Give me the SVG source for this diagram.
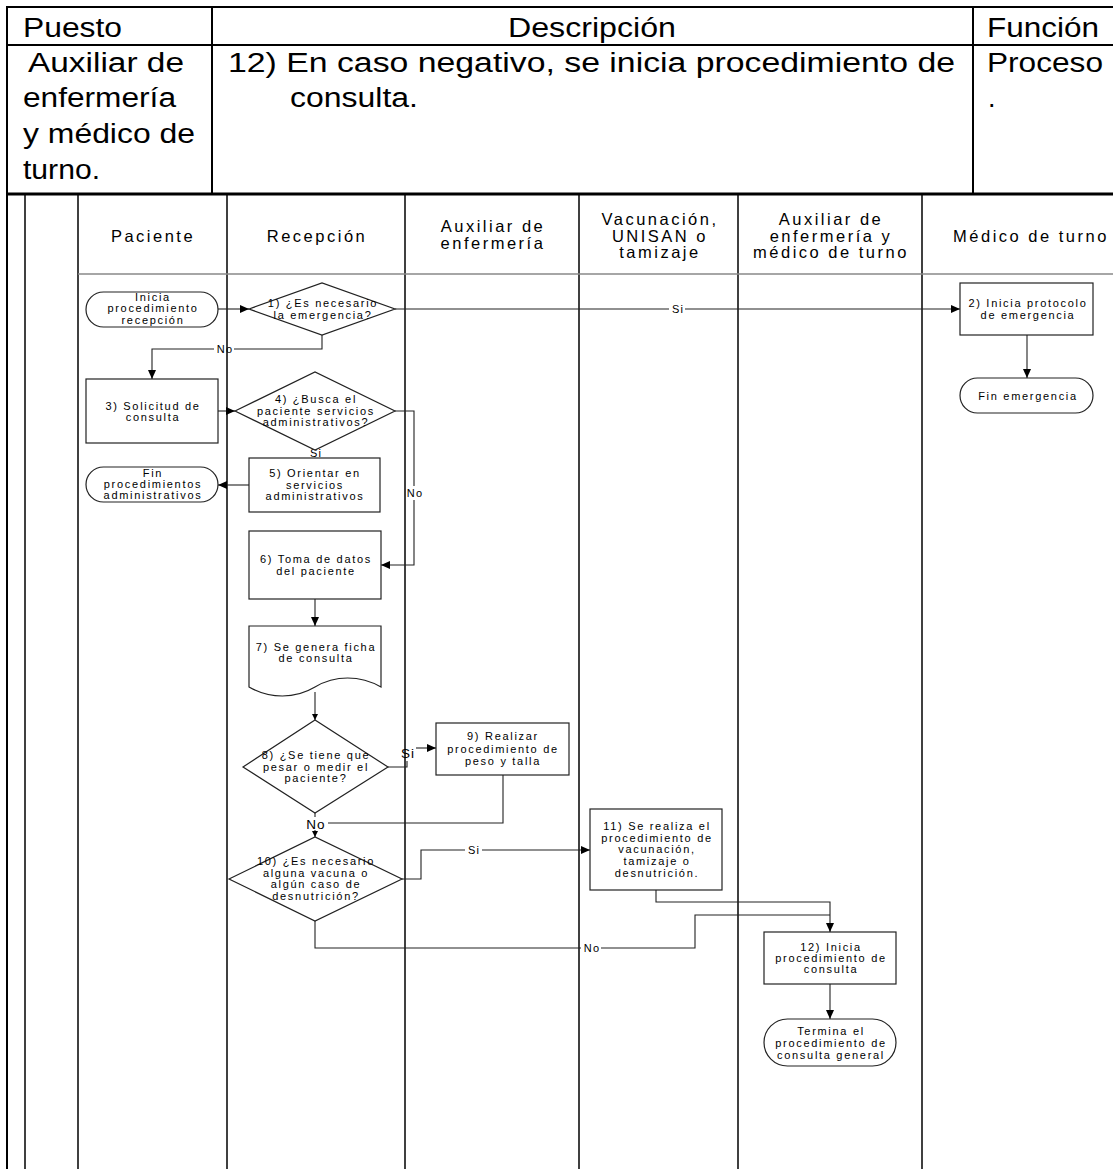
<svg xmlns="http://www.w3.org/2000/svg" width="1113" height="1169" viewBox="0 0 1113 1169">
<style>
text{font-family:"Liberation Sans",Arial,sans-serif;fill:#000}
.tbl{font-size:27px}
.lane{font-size:16.5px;letter-spacing:2.5px;text-anchor:middle}
.t{font-size:11px;letter-spacing:1.7px;text-anchor:middle}
.lb{font-size:11px;letter-spacing:1.2px;text-anchor:middle}
.lbb{font-size:13.5px;letter-spacing:1px;text-anchor:middle}
.grid{stroke:#000;stroke-width:2;fill:none}
.ln{stroke:#000;stroke-width:1.5;fill:none}
.hd{stroke:#888;stroke-width:1.5;fill:none}
.sh{fill:#fff;stroke:#222;stroke-width:1.2}
.c{fill:none;stroke:#222;stroke-width:1.1}
.a{marker-end:url(#ah)}
.as{marker-end:url(#ahs)}
</style>
<defs>
<marker id="ah" viewBox="0 0 9 8" refX="9" refY="4" markerWidth="9" markerHeight="8" markerUnits="userSpaceOnUse" orient="auto"><path d="M0,0 L9,4 L0,8 z" fill="#000"/></marker>
<marker id="ahs" viewBox="0 0 6 6" refX="6" refY="3" markerWidth="6" markerHeight="6" markerUnits="userSpaceOnUse" orient="auto"><path d="M0,0 L6,3 L0,6 z" fill="#000"/></marker>
</defs>
<rect width="1113" height="1169" fill="#fff"/>

<g id="table">
<line class="grid" x1="7" y1="7" x2="1113" y2="7"/>
<line class="grid" x1="7" y1="45" x2="1113" y2="45"/>
<line x1="7" y1="194" x2="1113" y2="194" stroke="#000" stroke-width="3"/>
<line class="grid" x1="7" y1="6" x2="7" y2="194"/>
<line class="grid" x1="212" y1="6" x2="212" y2="194"/>
<line class="grid" x1="973" y1="6" x2="973" y2="194"/>
<text class="tbl" x="23" y="37" textLength="99" lengthAdjust="spacingAndGlyphs">Puesto</text>
<text class="tbl" x="508" y="37" textLength="168" lengthAdjust="spacingAndGlyphs">Descripción</text>
<text class="tbl" x="987" y="37" textLength="112" lengthAdjust="spacingAndGlyphs">Función</text>
<text class="tbl" x="28" y="72" textLength="156" lengthAdjust="spacingAndGlyphs">Auxiliar de</text>
<text class="tbl" x="23" y="107" textLength="153" lengthAdjust="spacingAndGlyphs">enfermería</text>
<text class="tbl" x="23" y="143" textLength="172" lengthAdjust="spacingAndGlyphs">y médico de</text>
<text class="tbl" x="23" y="179" textLength="77" lengthAdjust="spacingAndGlyphs">turno.</text>
<text class="tbl" x="228" y="72" textLength="727" lengthAdjust="spacingAndGlyphs">12) En caso negativo, se inicia procedimiento de</text>
<text class="tbl" x="290" y="107" textLength="128" lengthAdjust="spacingAndGlyphs">consulta.</text>
<text class="tbl" x="987" y="72" textLength="116" lengthAdjust="spacingAndGlyphs">Proceso</text>
<text class="tbl" x="988" y="107">.</text>
</g>

<g id="lanes">
<line class="grid" x1="7" y1="194" x2="7" y2="1169"/>
<line class="ln" x1="25" y1="194" x2="25" y2="1169"/>
<line class="ln" x1="78" y1="194" x2="78" y2="1169"/>
<line class="ln" x1="227" y1="194" x2="227" y2="1169"/>
<line class="ln" x1="405" y1="194" x2="405" y2="1169"/>
<line class="ln" x1="579" y1="194" x2="579" y2="1169"/>
<line class="ln" x1="738" y1="194" x2="738" y2="1169"/>
<line class="ln" x1="922" y1="194" x2="922" y2="1169"/>
<line class="hd" x1="78" y1="274" x2="1113" y2="274"/>
<text class="lane" x="153" y="242">Paciente</text>
<text class="lane" x="317" y="242">Recepción</text>
<text class="lane" x="493" y="232">Auxiliar de</text>
<text class="lane" x="493" y="249">enfermería</text>
<text class="lane" x="660" y="225">Vacunación,</text>
<text class="lane" x="660" y="242">UNISAN o</text>
<text class="lane" x="660" y="258">tamizaje</text>
<text class="lane" x="831" y="225">Auxiliar de</text>
<text class="lane" x="831" y="242">enfermería y</text>
<text class="lane" x="831" y="258">médico de turno</text>
<text class="lane" x="1031" y="242">Médico de turno</text>
</g>

<g id="connectors">
<path class="c a" d="M218,309 H249"/>
<path class="c" d="M395,309 H669"/>
<path class="c a" d="M685,309 H960"/>
<path class="c" d="M322,335 V349 H234"/>
<path class="c a" d="M214,349 H152 V379"/>
<path class="c a" d="M218,411 H235"/>
<path class="c" d="M315,449 V458"/>
<path class="c a" d="M249,485 H218"/>
<path class="c" d="M395,411 H414 V486"/>
<path class="c a" d="M414,500 V565 H381"/>
<path class="c a" d="M315,599 V626"/>
<path class="c as" d="M315,692 V720"/>
<path class="c" d="M388,767 H407 V761"/>
<path class="c a" d="M416,748 H436"/>
<path class="c" d="M315,813 V817"/>
<path class="c" d="M503,775 V823 H328"/>
<path class="c as" d="M315,830 V837"/>
<path class="c" d="M402,879 H421 V850 H465"/>
<path class="c a" d="M482,850 H590"/>
<path class="c a" d="M656,890 V902 H830 V932"/>
<path class="c" d="M315,921 V948 H581"/>
<path class="c" d="M601,948 H695 V915 H830"/>
<path class="c a" d="M1027,335 V378"/>
<path class="c a" d="M830,984 V1019"/>
<rect x="307" y="448" width="16" height="10" fill="#fff"/>
<text class="lb" x="316" y="457">Si</text>
<text class="lb" x="678" y="313">Si</text>
<text class="lb" x="225" y="353">No</text>
<text class="lb" x="415" y="497">No</text>
<text class="lbb" x="408" y="758">Si</text>
<text class="lbb" x="316" y="829">No</text>
<text class="lb" x="474" y="854">Si</text>
<text class="lb" x="592" y="952">No</text>
</g>

<g id="n-inicia">
<rect class="sh" x="86" y="292" width="132" height="35" rx="17.5"/>
<text class="t" x="153" y="300.5">Inicia</text>
<text class="t" x="153" y="312">procedimiento</text>
<text class="t" x="153" y="323.5">recepción</text>
</g>
<g id="n-d1">
<polygon class="sh" points="249,309 322,283 395,309 322,335"/>
<text class="t" x="323" y="306.5">1) ¿Es necesario</text>
<text class="t" x="323" y="318.5">la emergencia?</text>
</g>
<g id="n-b2">
<rect class="sh" x="960" y="283" width="133" height="52"/>
<text class="t" x="1028" y="307">2) Inicia protocolo</text>
<text class="t" x="1028" y="319">de emergencia</text>
</g>
<g id="n-finemerg">
<rect class="sh" x="960" y="378" width="133" height="35" rx="17.5"/>
<text class="t" x="1028" y="400">Fin emergencia</text>
</g>
<g id="n-b3">
<rect class="sh" x="86" y="379" width="132" height="64"/>
<text class="t" x="153" y="410">3) Solicitud de</text>
<text class="t" x="153" y="421">consulta</text>
</g>
<g id="n-d4">
<polygon class="sh" points="235,411 315,372 395,411 315,450"/>
<text class="t" x="316" y="403">4) ¿Busca el</text>
<text class="t" x="316" y="415">paciente servicios</text>
<text class="t" x="316" y="426">administrativos?</text>
</g>
<g id="n-b5">
<rect class="sh" x="249" y="458" width="131" height="54"/>
<text class="t" x="315" y="477">5) Orientar en</text>
<text class="t" x="315" y="489">servicios</text>
<text class="t" x="315" y="500">administrativos</text>
</g>
<g id="n-finadm">
<rect class="sh" x="86" y="467" width="132" height="35" rx="17.5"/>
<text class="t" x="153" y="476.5">Fin</text>
<text class="t" x="153" y="488">procedimientos</text>
<text class="t" x="153" y="499">administrativos</text>
</g>
<g id="n-b6">
<rect class="sh" x="249" y="531" width="132" height="68"/>
<text class="t" x="316" y="563">6) Toma de datos</text>
<text class="t" x="316" y="575">del paciente</text>
</g>
<g id="n-doc7">
<path class="sh" d="M249,626 H381 V687 C360,675 335,675 315,687 C295,699 270,699 249,687 Z"/>
<text class="t" x="316" y="651">7) Se genera ficha</text>
<text class="t" x="316" y="662">de consulta</text>
</g>
<g id="n-d8">
<polygon class="sh" points="243,767 315,720 388,767 315,813"/>
<text class="t" x="316" y="759">8) ¿Se tiene que</text>
<text class="t" x="316" y="771">pesar o medir el</text>
<text class="t" x="316" y="782">paciente?</text>
</g>
<g id="n-b9">
<rect class="sh" x="436" y="723" width="133" height="52"/>
<text class="t" x="503" y="740">9) Realizar</text>
<text class="t" x="503" y="753">procedimiento de</text>
<text class="t" x="503" y="765">peso y talla</text>
</g>
<g id="n-d10">
<polygon class="sh" points="229,879 315,837 402,879 315,921"/>
<text class="t" x="316" y="865">10) ¿Es necesario</text>
<text class="t" x="316" y="877">alguna vacuna o</text>
<text class="t" x="316" y="888">algún caso de</text>
<text class="t" x="316" y="900">desnutrición?</text>
</g>
<g id="n-b11">
<rect class="sh" x="590" y="809" width="132" height="81"/>
<text class="t" x="657" y="830">11) Se realiza el</text>
<text class="t" x="657" y="842">procedimiento de</text>
<text class="t" x="657" y="853">vacunación,</text>
<text class="t" x="657" y="865">tamizaje o</text>
<text class="t" x="657" y="877">desnutrición.</text>
</g>
<g id="n-b12">
<rect class="sh" x="764" y="932" width="132" height="52"/>
<text class="t" x="831" y="951">12) Inicia</text>
<text class="t" x="831" y="962">procedimiento de</text>
<text class="t" x="831" y="973">consulta</text>
</g>
<g id="n-termina">
<rect class="sh" x="764" y="1019" width="132" height="47" rx="23.5"/>
<text class="t" x="831" y="1035">Termina el</text>
<text class="t" x="831" y="1047">procedimiento de</text>
<text class="t" x="831" y="1059">consulta general</text>
</g>
</svg>
